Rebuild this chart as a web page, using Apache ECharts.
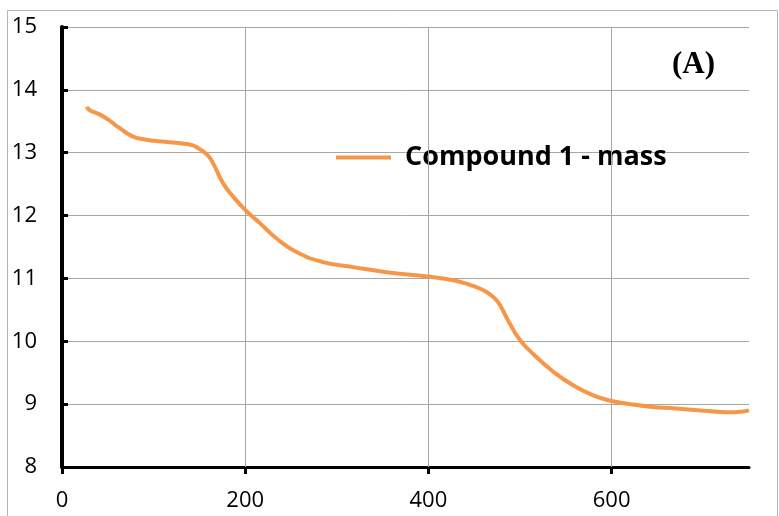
<!DOCTYPE html>
<html>
<head>
<meta charset="utf-8">
<script src="https://cdn.jsdelivr.net/npm/echarts@6/dist/echarts.min.js"></script>
<style>
  html, body { margin: 0; padding: 0; background: #fff; }
  #chart { width: 779px; height: 516px; }
</style>
</head>
<body>
<div id="chart"></div>
<script>
// Temperature readings (x) and mass (y) for the thermogram
const temperature = [27, 30, 41, 52, 63, 77, 90, 101, 115, 129, 142, 150, 159, 165, 176, 187, 200, 216, 234, 256, 285, 318, 354, 400, 427, 445, 456, 466, 475, 481, 487, 500, 515, 536, 558, 580, 600, 620, 642, 670, 697, 715, 729, 742, 750];
const mass = [13.73, 13.68, 13.61, 13.51, 13.39, 13.26, 13.21, 13.19, 13.17, 13.15, 13.12, 13.06, 12.96, 12.83, 12.51, 12.30, 12.09, 11.88, 11.64, 11.42, 11.26, 11.18, 11.10, 11.03, 10.97, 10.90, 10.84, 10.76, 10.64, 10.50, 10.33, 10.02, 9.79, 9.52, 9.30, 9.14, 9.05, 9.00, 8.96, 8.93, 8.90, 8.88, 8.87, 8.88, 8.90];
const xTicks = [0, 200, 400, 600];
const seriesName = 'Compound 1 - mass';
const panelTag = '(A)';

const points = temperature.map((t, i) => [t, mass[i]]);

const chart = echarts.init(document.getElementById('chart'), null, { renderer: 'canvas' });
chart.setOption({
  animation: false,
  backgroundColor: '#ffffff',
  grid: { left: 62, top: 27, right: 30, bottom: 49, containLabel: false },
  graphic: [
    {
      type: 'rect',
      shape: { x: 7.5, y: 10.5, width: 770, height: 520 },
      style: { fill: 'none', stroke: '#b4b4b4', lineWidth: 1 },
      silent: true, z: 0
    },
    {
      type: 'text',
      left: 672, top: 49,
      style: { text: panelTag, font: 'bold 31px "Liberation Serif", "DejaVu Serif", serif', fill: '#000' },
      z: 10
    }
  ],
  legend: {
    left: 331, top: 139,
    icon: 'rect',
    itemWidth: 55, itemHeight: 4,
    data: [seriesName],
    textStyle: {
      fontFamily: '"Open Sans", sans-serif',
      fontWeight: 'bold',
      fontSize: 27,
      color: '#000',
      padding: [0, 0, 0, 9]
    }
  },
  xAxis: {
    type: 'value',
    min: 0, max: 750, interval: 200,
    axisLine: { show: true, onZero: false, lineStyle: { color: '#000', width: 3 } },
    axisTick: { show: true, customValues: xTicks, length: 7, inside: false, lineStyle: { color: '#000', width: 3 } },
    axisLabel: {
      customValues: xTicks, margin: 23,
      fontFamily: '"Open Sans", sans-serif', fontSize: 22, color: '#000'
    },
    splitLine: { show: false }
  },
  yAxis: {
    type: 'value',
    min: 8, max: 15, interval: 1,
    axisLine: { show: true, lineStyle: { color: '#000', width: 4 } },
    axisTick: { show: true, inside: true, length: 6, lineStyle: { color: '#000', width: 3 } },
    axisLabel: {
      margin: 25,
      fontFamily: '"Open Sans", sans-serif', fontSize: 22, color: '#000'
    },
    splitLine: { show: true, lineStyle: { color: '#a6a6a6', width: 1 } }
  },
  series: [
    {
      // vertical grid lines at the temperature ticks
      type: 'line',
      data: [],
      silent: true,
      z: 1,
      markLine: {
        silent: true,
        symbol: ['none', 'none'],
        label: { show: false },
        lineStyle: { color: '#a6a6a6', width: 1, type: 'solid' },
        data: xTicks.filter(v => v > 0).map(v => ({ xAxis: v }))
      }
    },
    {
      name: seriesName,
      type: 'line',
      data: points,
      smooth: 0.5,
      showSymbol: false,
      clip: true,
      z: 10,
      color: '#F79646',
      lineStyle: { color: '#F79646', width: 4 }
    }
  ]
});
</script>
</body>
</html>
